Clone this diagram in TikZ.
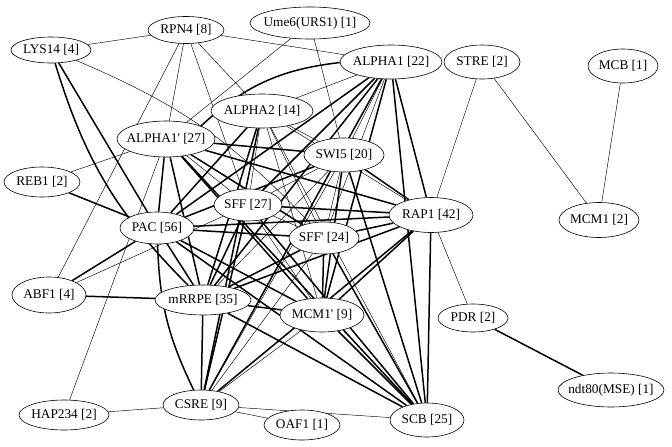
\documentclass[tikz,border=0pt]{standalone}
\usepackage{fontspec}
\setmainfont{Liberation Serif}
\usetikzlibrary{shapes.geometric,backgrounds}
\begin{document}
\begin{tikzpicture}[x=1pt,y=-1pt,
 nd/.style 2 args={ellipse,draw,line width=0.6pt,fill=white,inner xsep=-40pt,inner ysep=-10pt,minimum width=#1,minimum height=#2,font=\fontsize{13.3}{15}\selectfont},
 tn/.style={line width=0.45pt},
 tk/.style={line width=1.5pt}]
\path[use as bounding box] (0,0) rectangle (672,447);
\node[nd={80}{26}] (lys) at (51,50) {LYS14 [4]};
\node[nd={76}{27}] (rpn) at (186,30) {RPN4 [8]};
\node[nd={120}{32}] (ume) at (310,23) {Ume6(URS1) [1]};
\node[nd={102}{34}] (a1) at (391,62) {ALPHA1 [22]};
\node[nd={76}{34}] (stre) at (482,62) {STRE [2]};
\node[nd={70}{34}] (mcb) at (623,66) {MCB [1]};
\node[nd={102}{34}] (a2) at (262,111) {ALPHA2 [14]};
\node[nd={98}{36}] (a1p) at (166,139) {ALPHA1\textquotesingle\ [27]};
\node[nd={80}{34}] (swi) at (344,155) {SWI5 [20]};
\node[nd={76}{30}] (reb) at (42,182) {REB1 [2]};
\node[nd={68}{32}] (sff) at (248,205) {SFF [27]};
\node[nd={84}{35}] (rap) at (431,215) {RAP1 [42]};
\node[nd={80}{35}] (mcm) at (599,220) {MCM1 [2]};
\node[nd={74}{32}] (pac) at (157,228) {PAC [56]};
\node[nd={70}{32}] (sffp) at (324,238) {SFF\textquotesingle\ [24]};
\node[nd={74}{36}] (abf) at (49,295) {ABF1 [4]};
\node[nd={96}{30}] (mrr) at (203,300) {mRRPE [35]};
\node[nd={84}{34}] (mcmp) at (322,315) {MCM1\textquotesingle\ [9]};
\node[nd={70}{28}] (pdr) at (473,318) {PDR [2]};
\node[nd={106}{34}] (ndt) at (611,390) {ndt80(MSE) [1]};
\node[nd={90}{30}] (hap) at (64,415) {HAP234 [2]};
\node[nd={76}{30}] (csre) at (201,405) {CSRE [9]};
\node[nd={76}{30}] (oaf) at (302,425) {OAF1 [1]};
\node[nd={74}{34}] (scb) at (427,420) {SCB [25]};
\begin{scope}[on background layer]
\fill[white] (0,0) rectangle (672,447);
\foreach \a/\b in {lys/rpn,rpn/a1,rpn/a2,rpn/a1p,rpn/abf,rpn/sff,ume/swi,ume/a1p,
  a1/a2,a1/swi,a1/sffp,stre/rap,stre/mcm,mcb/mcm,reb/a1p,hap/a1p,hap/csre,
  csre/oaf,csre/scb,rap/pdr,mcmp/csre,abf/sff,a2/swi,a2/sff,a2/sffp,a2/mcmp,a2/rap,
  swi/sff,swi/sffp,sff/sffp,sff/mcmp,a1p/sff,sffp/csre,swi/csre,a2/scb,swi/mrr}
  \draw[tn] (\a) -- (\b);
\draw[tn] (lys) to[bend left=12] (sffp);
\foreach \a/\b in {lys/pac,reb/pac,abf/pac,abf/mrr,a1p/pac,a1p/mrr,a1p/mcmp,a1p/scb,
  a1p/rap,a1p/swi,a1p/sffp,a2/pac,a2/mrr,a2/csre,
  a1/pac,a1/mrr,a1/sff,a1/mcmp,a1/csre,a1/scb,a1/rap,
  swi/pac,swi/scb,swi/mcmp,swi/rap,
  rap/pac,rap/sff,rap/mrr,rap/sffp,rap/mcmp,rap/scb,rap/csre,
  pac/sffp,pac/mcmp,pac/scb,pac/mrr,
  sff/mrr,sff/scb,sff/csre,sffp/mcmp,sffp/mrr,sffp/scb,
  mrr/csre,mrr/mcmp,mrr/scb,mcmp/scb,pdr/ndt}
  \draw[tk] (\a) -- (\b);
\draw[tk] (lys) to[bend right=14] (mrr);
\draw[tk] (a1p.north east) to[bend left=18] (a1);
\draw[tk] (pac) to[bend right=12] (csre);
\end{scope}
\end{tikzpicture}
\end{document}
